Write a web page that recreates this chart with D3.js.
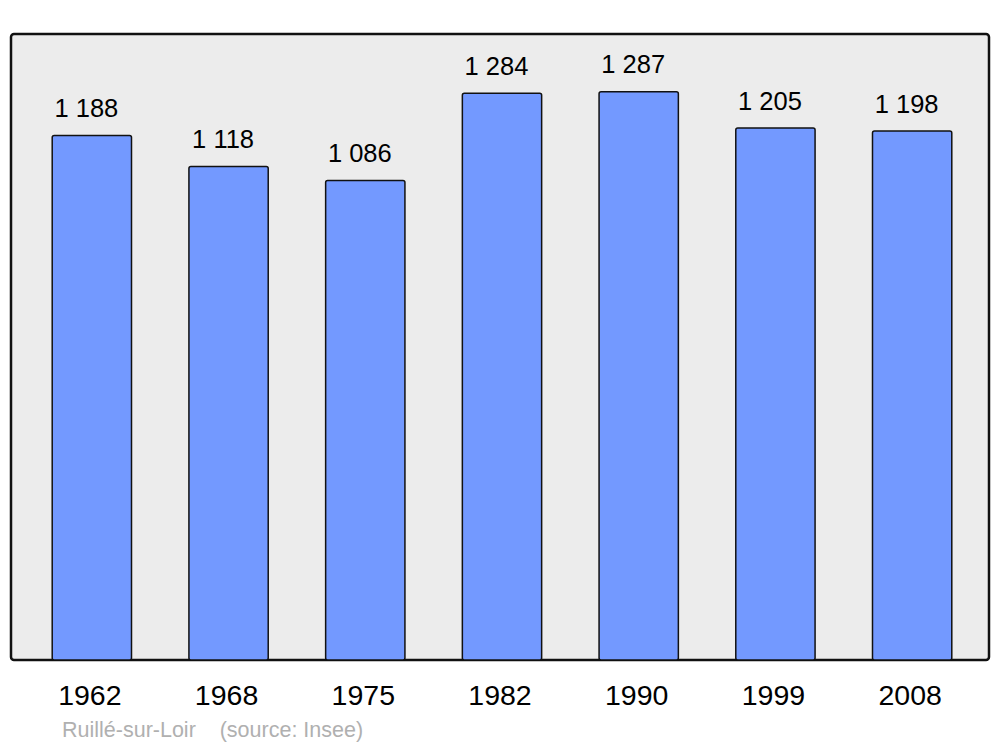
<!DOCTYPE html>
<html><head><meta charset="utf-8">
<script src="https://cdn.jsdelivr.net/npm/d3@7"></script>
<style>body{margin:0;background:#fff}svg{display:block}</style>
</head><body><svg id="c" width="1000" height="747"></svg>
<script>
const years = ["1962","1968","1975","1982","1990","1999","2008"];
const population = [1188,1118,1086,1284,1287,1205,1198];
const valueLabels = ["1 188","1 118","1 086","1 284","1 287","1 205","1 198"];
const sourceText = "Ruillé-sur-Loir    (source: Insee)";

const svg = d3.select("#c");
const font = "'Liberation Sans', Arial, sans-serif";
const x = d3.scaleBand().domain(years).range([23.5, 980.5]).paddingInner(0.42).paddingOuter(0.21);
const y = d3.scaleLinear().domain([0, 1418]).range([660, 34]);

svg.append("rect").attr("x",11).attr("y",34).attr("width",978).attr("height",626)
  .attr("rx",3).attr("fill","#ececec").attr("stroke","#111").attr("stroke-width",2.5);

svg.selectAll("rect.bar").data(years).join("rect").attr("class","bar")
  .attr("x",d=>x(d)).attr("width",x.bandwidth())
  .attr("y",(d,i)=>y(population[i])).attr("height",(d,i)=>y(0)-y(population[i]))
  .attr("rx",2).attr("fill","#7399ff").attr("stroke","#111").attr("stroke-width",1.5);

svg.selectAll("text.val").data(years).join("text").attr("class","val")
  .attr("x",d=>x(d)+x.bandwidth()/2-5.5).attr("y",(d,i)=>y(population[i])-18.5)
  .attr("text-anchor","middle").attr("font-family",font).attr("font-size",25.5)
  .attr("fill","#000").text((d,i)=>valueLabels[i]);

const xAxis = d3.axisBottom(x).tickSize(0).tickPadding(0);
const gx = svg.append("g").attr("transform","translate(-2,704.5)").call(xAxis);
gx.select(".domain").remove();
gx.selectAll("text").attr("dy",0).attr("font-family",font).attr("font-size",28.5).attr("fill","#000");

svg.append("text").attr("x",62).attr("y",737).attr("font-family",font).attr("font-size",21.5)
  .attr("fill","#b0b0b0").attr("xml:space","preserve").style("white-space","pre").text(sourceText);
</script></body></html>
